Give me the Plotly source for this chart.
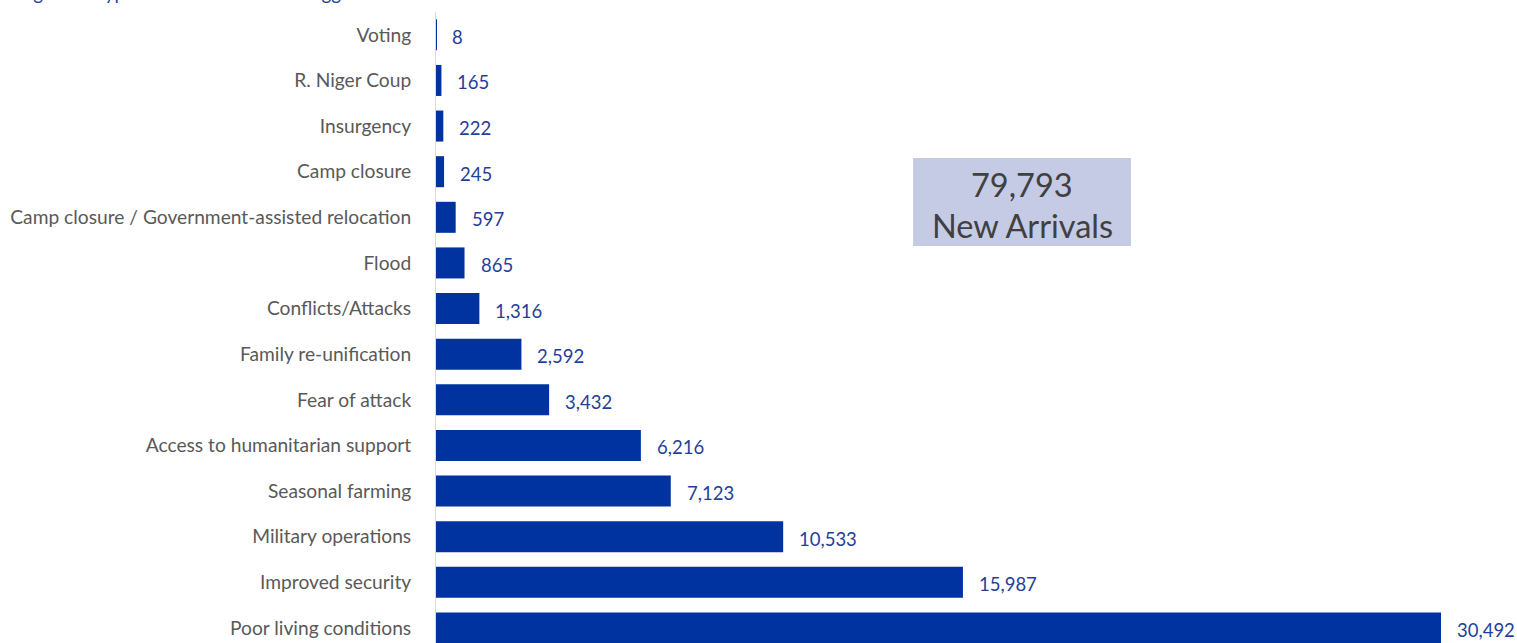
import plotly.graph_objects as go

# Reasons reported for new arrivals, listed from largest to smallest
reasons = [
    "Poor living conditions",
    "Improved security",
    "Military operations",
    "Seasonal farming",
    "Access to humanitarian support",
    "Fear of attack",
    "Family re-unification",
    "Conflicts/Attacks",
    "Flood",
    "Camp closure / Government-assisted relocation",
    "Camp closure",
    "Insurgency",
    "R. Niger Coup",
    "Voting",
]
arrivals = [30492, 15987, 10533, 7123, 6216, 3432, 2592, 1316, 865, 597, 245, 222, 165, 8]

total_arrivals = 79793
total_caption = "New Arrivals"
heading = "Figure 7: Type of main new arrival triggers"

BAR_BLUE = "#0033A0"
LABEL_BLUE = "#1F3F9A"
GREY_TEXT = "#595959"
FONT = "Lato, 'Open Sans', sans-serif"

fig = go.Figure(
    go.Bar(
        x=arrivals,
        y=reasons,
        orientation="h",
        marker=dict(color=BAR_BLUE, line=dict(width=0)),
        width=0.68,
        hoverinfo="skip",
    )
)

# value labels to the right of each bar
for name, val in zip(reasons, arrivals):
    fig.add_annotation(
        x=val, y=name, xref="x", yref="y",
        text=f"{val:,}", showarrow=False,
        xanchor="left", yanchor="middle",
        xshift=14, yshift=-2,
        font=dict(family=FONT, size=18.5, color=LABEL_BLUE),
    )

# total callout: shaded box with two centred lines
fig.add_shape(
    type="rect", xref="paper", yref="paper",
    x0=0.4413, x1=0.6429, y0=0.6292, y1=0.7686,
    fillcolor="#C5CBE5", line=dict(width=0), layer="above",
)
fig.add_annotation(
    x=0.5421, y=0.7274, xref="paper", yref="paper",
    text=f"{total_arrivals:,}", showarrow=False,
    xanchor="center", yanchor="middle",
    font=dict(family=FONT, size=32.5, color="#404040"),
)
fig.add_annotation(
    x=0.5421, y=0.6609, xref="paper", yref="paper",
    text=total_caption, showarrow=False,
    xanchor="center", yanchor="middle",
    font=dict(family=FONT, size=32.5, color="#404040"),
)

# heading line (sits at the very top edge of the page)
fig.add_annotation(
    x=0, y=1, xref="paper", yref="paper",
    text=heading, showarrow=False,
    xanchor="left", yanchor="bottom",
    xshift=-420, yshift=6,
    font=dict(family=FONT, size=19, color=LABEL_BLUE),
)

fig.update_layout(
    width=1517, height=643,
    margin=dict(l=436, r=0, t=12, b=0),
    paper_bgcolor="white", plot_bgcolor="white",
    showlegend=False,
    bargap=0.32,
    font=dict(family=FONT, size=19.2, color=GREY_TEXT),
)
fig.update_xaxes(range=[0, 32797], visible=False, showgrid=False, zeroline=False)
fig.update_yaxes(
    categoryorder="array", categoryarray=reasons,
    range=[-0.33, 13.5],
    showline=True, linecolor="#D9D9D9", linewidth=1,
    showgrid=False, zeroline=False,
    ticks="", ticklabelstandoff=20,
    tickfont=dict(family=FONT, size=19.2, color=GREY_TEXT),
)

fig.write_html("out.html", config={"displayModeBar": False})
